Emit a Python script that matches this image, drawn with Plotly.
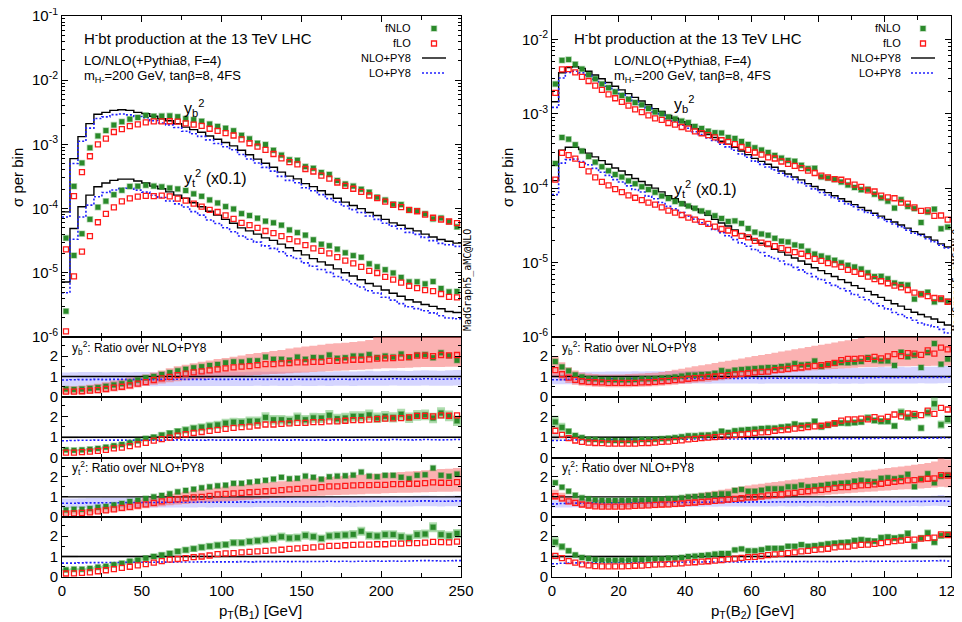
import numpy as np
import plotly.graph_objects as go

# ======================= DATA =======================
# Left column: pT(B1), 50 bins of 5 GeV ; right column: pT(B2), 60 bins of 2 GeV
BW_L, NB_L = 5.0, 50
BW_R, NB_R = 2.0, 60

# ---- NLO+PY8 sigma per bin (main panels; yt values as plotted, i.e. x0.1) ----
nlo_yb_L = [8.9e-5, 6.0e-4, 1.32e-3, 2.11e-3, 2.95e-3, 3.16e-3, 3.39e-3, 3.47e-3, 3.39e-3, 3.16e-3,
            3.02e-3, 2.75e-3, 2.51e-3, 2.34e-3, 2.11e-3, 1.86e-3, 1.70e-3, 1.55e-3, 1.35e-3, 1.20e-3,
            1.07e-3, 9.5e-4, 8.1e-4, 6.9e-4, 5.9e-4, 5.1e-4, 4.4e-4, 3.7e-4, 3.2e-4, 2.9e-4,
            2.45e-4, 2.2e-4, 1.9e-4, 1.66e-4, 1.45e-4, 1.26e-4, 1.12e-4, 1.0e-4, 8.7e-5, 7.8e-5,
            6.8e-5, 6.0e-5, 5.5e-5, 4.9e-5, 4.5e-5, 4.0e-5, 3.6e-5, 3.3e-5, 3.1e-5, 2.9e-5]
nlo_yt_L = [7.2e-6, 4.9e-5, 1.07e-4, 1.62e-4, 2.19e-4, 2.51e-4, 2.75e-4, 2.88e-4, 2.88e-4, 2.69e-4,
            2.51e-4, 2.24e-4, 2.04e-4, 1.82e-4, 1.62e-4, 1.45e-4, 1.23e-4, 1.07e-4, 9.1e-5, 7.9e-5,
            6.8e-5, 5.9e-5, 5.0e-5, 4.5e-5, 4.0e-5, 3.5e-5, 3.2e-5, 2.8e-5, 2.45e-5, 2.2e-5,
            1.9e-5, 1.66e-5, 1.48e-5, 1.32e-5, 1.15e-5, 1.0e-5, 8.9e-6, 7.8e-6, 6.8e-6, 6.2e-6,
            5.4e-6, 4.8e-6, 4.3e-6, 3.8e-6, 3.5e-6, 3.2e-6, 3.0e-6, 2.75e-6, 2.5e-6, 2.4e-6]
nlo_yb_R = [1.45e-3, 3.55e-3, 4.17e-3, 4.27e-3, 4.07e-3, 3.72e-3, 3.31e-3, 2.95e-3, 2.63e-3, 2.34e-3,
            2.09e-3, 1.86e-3, 1.66e-3, 1.48e-3, 1.32e-3, 1.17e-3, 1.07e-3, 9.5e-4, 8.7e-4, 7.8e-4,
            7.1e-4, 6.3e-4, 5.75e-4, 5.25e-4, 4.8e-4, 4.27e-4, 3.9e-4, 3.55e-4, 3.16e-4, 2.82e-4,
            2.51e-4, 2.29e-4, 2.09e-4, 1.91e-4, 1.70e-4, 1.55e-4, 1.41e-4, 1.29e-4, 1.15e-4, 1.05e-4,
            9.5e-5, 8.7e-5, 7.9e-5, 7.2e-5, 6.6e-5, 6.0e-5, 5.5e-5, 5.0e-5, 4.6e-5, 4.2e-5,
            3.8e-5, 3.5e-5, 3.2e-5, 2.9e-5, 2.6e-5, 2.4e-5, 2.2e-5, 2.0e-5, 1.78e-5, 1.62e-5]
nlo_yt_R = [1.26e-4, 3.24e-4, 3.55e-4, 3.55e-4, 3.31e-4, 2.95e-4, 2.63e-4, 2.34e-4, 2.09e-4, 1.86e-4,
            1.70e-4, 1.51e-4, 1.35e-4, 1.23e-4, 1.10e-4, 1.0e-4, 8.9e-5, 7.9e-5, 7.2e-5, 6.5e-5,
            5.75e-5, 5.25e-5, 4.7e-5, 4.3e-5, 3.8e-5, 3.4e-5, 3.1e-5, 2.75e-5, 2.45e-5, 2.24e-5,
            2.0e-5, 1.82e-5, 1.66e-5, 1.51e-5, 1.38e-5, 1.26e-5, 1.15e-5, 1.05e-5, 9.5e-6, 8.5e-6,
            7.8e-6, 7.1e-6, 6.5e-6, 5.9e-6, 5.4e-6, 4.9e-6, 4.5e-6, 4.1e-6, 3.7e-6, 3.4e-6,
            3.1e-6, 2.8e-6, 2.6e-6, 2.35e-6, 2.15e-6, 2.0e-6, 1.86e-6, 1.74e-6, 1.58e-6, 1.45e-6]

# ---- ratios over NLO+PY8 (ratio panels) ----
r_lo_yb_L = [0.83, 0.84, 0.85, 0.85, 0.86, 0.85, 0.86, 0.86, 0.85, 0.86, 0.86, 0.85, 0.86, 0.86, 0.87, 0.86, 0.86,
             0.86, 0.87, 0.86, 0.86, 0.87, 0.86, 0.86, 0.87, 0.86, 0.87, 0.86, 0.86, 0.87, 0.86, 0.86, 0.87, 0.86,
             0.87, 0.87, 0.86, 0.87, 0.88, 0.87, 0.87, 0.89, 0.88, 0.87, 0.88, 0.89, 0.88, 0.87, 0.88, 0.89]
r_fnlo_yb_L = [0.39, 0.37, 0.39, 0.42, 0.46, 0.52, 0.59, 0.65, 0.73, 0.83, 0.94, 1.0, 1.1, 1.19, 1.28, 1.35, 1.43,
               1.48, 1.54, 1.59, 1.67, 1.72, 1.71, 1.77, 1.77, 1.95, 1.84, 1.84, 1.8, 1.95, 1.84, 1.93, 1.92, 2.05,
               1.89, 1.92, 2.0, 2.0, 2.07, 1.93, 2.0, 1.95, 2.1, 1.93, 2.05, 2.07, 1.92, 2.16, 2.02, 1.79]
r_flo_yb_L = [0.26, 0.26, 0.28, 0.31, 0.34, 0.39, 0.46, 0.5, 0.57, 0.65, 0.73, 0.83, 0.91, 0.98, 1.07, 1.14, 1.2,
              1.25, 1.3, 1.35, 1.4, 1.45, 1.48, 1.51, 1.56, 1.61, 1.61, 1.64, 1.66, 1.69, 1.69, 1.72, 1.72, 1.76,
              1.76, 1.79, 1.82, 1.82, 1.84, 1.87, 1.89, 1.9, 1.92, 1.95, 2.02, 2.02, 2.0, 2.05, 2.03, 2.05]
r_lo_yt_L = [0.68, 0.68, 0.69, 0.7, 0.7, 0.71, 0.71, 0.71, 0.72, 0.72, 0.72, 0.72, 0.73, 0.72, 0.73, 0.73, 0.73,
             0.74, 0.73, 0.74, 0.74, 0.74, 0.75, 0.74, 0.75, 0.75, 0.75, 0.76, 0.75, 0.76, 0.75, 0.76, 0.76, 0.77,
             0.76, 0.77, 0.76, 0.77, 0.77, 0.78, 0.77, 0.78, 0.77, 0.78, 0.79, 0.8, 0.79, 0.78, 0.79, 0.8]
r_fnlo_yt_L = [0.35, 0.38, 0.38, 0.42, 0.48, 0.52, 0.6, 0.67, 0.77, 0.83, 0.92, 1.0, 1.07, 1.15, 1.25, 1.32, 1.38,
               1.45, 1.5, 1.55, 1.58, 1.67, 1.67, 1.73, 1.77, 1.82, 1.88, 1.97, 1.9, 1.92, 2.03, 1.97, 1.88, 2.0,
               2.03, 2.05, 2.08, 2.23, 2.03, 2.0, 2.07, 2.07, 1.97, 1.9, 2.07, 2.1, 2.43, 2.07, 2.02, 2.13]
r_flo_yt_L = [0.17, 0.18, 0.2, 0.23, 0.28, 0.33, 0.38, 0.45, 0.5, 0.57, 0.63, 0.7, 0.78, 0.85, 0.88, 0.92, 0.97,
              1.0, 1.05, 1.12, 1.15, 1.17, 1.2, 1.23, 1.25, 1.28, 1.3, 1.33, 1.37, 1.4, 1.42, 1.45, 1.48, 1.52,
              1.52, 1.55, 1.57, 1.58, 1.58, 1.6, 1.6, 1.63, 1.63, 1.65, 1.65, 1.68, 1.72, 1.7, 1.69, 1.73]

r_lo_yb_R = [0.84, 0.85, 0.86, 0.87, 0.87, 0.88, 0.88, 0.88, 0.89, 0.89, 0.89, 0.89, 0.9, 0.89, 0.9, 0.9, 0.9, 0.9,
             0.91, 0.9, 0.9, 0.91, 0.91, 0.9, 0.91, 0.91, 0.92, 0.91, 0.91, 0.92, 0.92, 0.91, 0.92, 0.92, 0.93,
             0.92, 0.93, 0.92, 0.93, 0.93, 0.92, 0.93, 0.94, 0.93, 0.93, 0.94, 0.93, 0.94, 0.94, 0.95, 0.94, 0.94,
             0.95, 0.94, 0.95, 0.96, 0.95, 0.95, 0.96, 0.97]
r_fnlo_yb_R = [1.73, 1.47, 1.28, 1.08, 0.98, 0.9, 0.89, 0.85, 0.85, 0.84, 0.84, 0.84, 0.85, 0.89, 0.89, 0.9, 0.93,
               0.95, 0.98, 1.02, 1.07, 1.07, 1.1, 1.11, 1.16, 1.29, 1.23, 1.31, 1.34, 1.37, 1.39, 1.42, 1.44, 1.44,
               1.49, 1.52, 1.63, 1.57, 1.59, 1.76, 1.49, 1.57, 1.65, 1.68, 1.67, 1.7, 1.73, 1.93, 1.8, 1.76, 1.76,
               1.54, 2.19, 1.96, 2.04, 1.44, 2.17, 2.61, 1.6, 1.85]
r_flo_yb_R = [1.31, 1.11, 0.95, 0.84, 0.77, 0.74, 0.72, 0.71, 0.69, 0.69, 0.69, 0.69, 0.69, 0.71, 0.72, 0.74, 0.77,
              0.79, 0.82, 0.85, 0.89, 0.92, 0.95, 0.98, 1.0, 1.03, 1.07, 1.1, 1.13, 1.16, 1.2, 1.23, 1.24, 1.31,
              1.34, 1.37, 1.41, 1.44, 1.49, 1.52, 1.55, 1.6, 1.67, 1.8, 1.86, 1.86, 1.89, 1.86, 1.96, 1.89, 1.98,
              2.09, 2.0, 2.14, 2.12, 2.06, 2.28, 2.12, 2.41, 2.33]
r_lo_yt_R = [0.65, 0.67, 0.68, 0.69, 0.69, 0.7, 0.7, 0.7, 0.71, 0.7, 0.71, 0.71, 0.71, 0.72, 0.71, 0.72, 0.72, 0.72,
             0.73, 0.72, 0.73, 0.73, 0.73, 0.74, 0.73, 0.74, 0.74, 0.74, 0.75, 0.74, 0.75, 0.75, 0.74, 0.75, 0.76,
             0.75, 0.75, 0.76, 0.75, 0.76, 0.76, 0.75, 0.76, 0.76, 0.77, 0.76, 0.76, 0.77, 0.76, 0.77, 0.77, 0.76,
             0.77, 0.77, 0.78, 0.77, 0.78, 0.79, 0.8, 0.78]
r_fnlo_yt_R = [1.7, 1.48, 1.28, 1.08, 0.95, 0.9, 0.85, 0.83, 0.82, 0.82, 0.83, 0.83, 0.85, 0.85, 0.87, 0.88, 0.88,
               0.92, 0.92, 0.95, 1.0, 1.02, 1.05, 1.08, 1.12, 1.15, 1.15, 1.32, 1.37, 1.28, 1.28, 1.33, 1.4, 1.4,
               1.4, 1.5, 1.5, 1.58, 1.5, 1.53, 1.57, 1.62, 1.65, 1.68, 1.7, 1.78, 1.82, 1.78, 1.75, 1.92, 1.95,
               1.9, 1.95, 2.12, 1.5, 1.9, 2.15, 1.7, 2.02, 2.08]
r_flo_yt_R = [1.03, 0.92, 0.78, 0.7, 0.62, 0.57, 0.53, 0.52, 0.52, 0.52, 0.52, 0.53, 0.55, 0.56, 0.58, 0.6, 0.62,
              0.63, 0.65, 0.67, 0.7, 0.72, 0.75, 0.77, 0.8, 0.83, 0.87, 0.9, 0.93, 0.97, 0.98, 1.02, 1.07, 1.1,
              1.13, 1.17, 1.2, 1.25, 1.28, 1.32, 1.35, 1.38, 1.45, 1.48, 1.48, 1.53, 1.57, 1.58, 1.62, 1.65, 1.7,
              1.75, 1.78, 1.82, 1.83, 1.87, 1.9, 1.92, 2.08, 2.05]

# ---- uncertainty bands in the ratio panels ----
# fLO scale band (red), absolute ratio values
red_lo_yb_L = [0.13, 0.13, 0.14, 0.16, 0.18, 0.22, 0.27, 0.32, 0.38, 0.46, 0.54, 0.6, 0.66, 0.72, 0.77, 0.82, 0.86,
               0.89, 0.92, 0.95, 0.98, 1.0, 1.03, 1.05, 1.08, 1.1, 1.12, 1.14, 1.16, 1.18, 1.2, 1.22, 1.24, 1.26,
               1.28, 1.3, 1.32, 1.33, 1.35, 1.38, 1.4, 1.41, 1.42, 1.43, 1.45, 1.46, 1.46, 1.47, 1.48, 1.48]
red_hi_yb_L = [0.52, 0.52, 0.55, 0.6, 0.65, 0.72, 0.8, 0.88, 0.95, 1.03, 1.1, 1.2, 1.3, 1.4, 1.5, 1.58, 1.65, 1.72,
               1.78, 1.85, 1.9, 1.97, 2.03, 2.1, 2.15, 2.2, 2.25, 2.3, 2.37, 2.42, 2.47, 2.5, 2.55, 2.6, 2.62, 2.65,
               2.68, 2.72, 2.78, 3.0, 3.0, 3.0, 3.0, 3.0, 3.0, 3.0, 3.0, 3.0, 3.0, 3.0]
red_lo_yt_L = [0.1, 0.11, 0.12, 0.14, 0.17, 0.2, 0.23, 0.27, 0.31, 0.37, 0.43, 0.48, 0.53, 0.58, 0.62, 0.65, 0.68,
               0.71, 0.73, 0.75, 0.77, 0.8, 0.83, 0.86, 0.89, 0.92, 0.94, 0.96, 0.98, 1.0, 1.02, 1.04, 1.06, 1.08,
               1.09, 1.1, 1.12, 1.13, 1.15, 1.16, 1.18, 1.19, 1.2, 1.21, 1.22, 1.23, 1.24, 1.25, 1.26, 1.27]
red_hi_yt_L = [0.35, 0.36, 0.38, 0.42, 0.47, 0.53, 0.6, 0.67, 0.74, 0.84, 0.93, 1.0, 1.07, 1.14, 1.2, 1.26, 1.32,
               1.37, 1.42, 1.47, 1.52, 1.56, 1.6, 1.64, 1.68, 1.71, 1.74, 1.77, 1.81, 1.85, 1.9, 1.93, 1.96, 1.99,
               2.02, 2.05, 2.08, 2.1, 2.13, 2.15, 2.18, 2.2, 2.23, 2.26, 2.29, 2.32, 2.35, 2.38, 2.4, 2.43]
red_lo_yb_R = [0.95, 0.8, 0.68, 0.6, 0.55, 0.52, 0.5, 0.49, 0.48, 0.48, 0.48, 0.48, 0.49, 0.5, 0.51, 0.53, 0.55,
               0.57, 0.6, 0.63, 0.66, 0.69, 0.72, 0.75, 0.78, 0.82, 0.86, 0.9, 0.95, 1.0, 1.04, 1.08, 1.1, 1.13,
               1.16, 1.19, 1.22, 1.25, 1.28, 1.31, 1.33, 1.35, 1.37, 1.39, 1.41, 1.43, 1.45, 1.46, 1.47, 1.48,
               1.49, 1.5, 1.5, 1.5, 1.51, 1.51, 1.51, 1.52, 1.52, 1.52]
red_hi_yb_R = [2.0, 1.7, 1.45, 1.3, 1.2, 1.15, 1.12, 1.1, 1.1, 1.1, 1.1, 1.12, 1.13, 1.15, 1.17, 1.19, 1.22, 1.27,
               1.33, 1.38, 1.44, 1.5, 1.55, 1.6, 1.66, 1.72, 1.77, 1.82, 1.88, 1.94, 2.0, 2.05, 2.1, 2.16, 2.22,
               2.27, 2.33, 2.38, 2.44, 2.5, 2.55, 2.6, 2.66, 2.72, 2.77, 2.83, 2.88, 3.0, 3.0, 3.0, 3.0, 3.0, 3.0,
               3.0, 3.0, 3.0, 3.0, 3.0, 3.0, 3.0]
red_lo_yt_R = [0.85, 0.74, 0.62, 0.54, 0.48, 0.44, 0.41, 0.4, 0.4, 0.4, 0.4, 0.4, 0.41, 0.42, 0.43, 0.44, 0.45,
               0.46, 0.48, 0.5, 0.52, 0.55, 0.58, 0.61, 0.64, 0.67, 0.7, 0.73, 0.76, 0.79, 0.81, 0.84, 0.87, 0.9,
               0.92, 0.95, 0.98, 1.0, 1.02, 1.05, 1.07, 1.1, 1.13, 1.15, 1.18, 1.2, 1.23, 1.25, 1.27, 1.3, 1.32,
               1.34, 1.36, 1.38, 1.4, 1.42, 1.44, 1.46, 1.5, 1.48]
red_hi_yt_R = [1.35, 1.2, 1.05, 0.95, 0.88, 0.85, 0.84, 0.84, 0.85, 0.86, 0.87, 0.88, 0.9, 0.91, 0.93, 0.95, 0.97,
               0.99, 1.01, 1.05, 1.1, 1.15, 1.2, 1.25, 1.3, 1.35, 1.4, 1.46, 1.52, 1.57, 1.61, 1.65, 1.7, 1.74,
               1.78, 1.82, 1.86, 1.9, 1.95, 1.99, 2.03, 2.07, 2.11, 2.15, 2.19, 2.23, 2.27, 2.31, 2.35, 2.39,
               2.43, 2.47, 2.51, 2.55, 2.59, 2.63, 2.68, 2.75, 2.9, 2.85]
# LO scale band (blue): lower / upper edge as fractions of the LO ratio
blue_lo_yb_L = [0.6, 0.6, 0.61, 0.61, 0.62, 0.62, 0.62, 0.62, 0.62, 0.62, 0.62, 0.62, 0.62, 0.62, 0.62, 0.62, 0.62,
                0.62, 0.62, 0.62, 0.62, 0.62, 0.62, 0.63, 0.63, 0.63, 0.63, 0.63, 0.63, 0.63, 0.63, 0.63, 0.63,
                0.63, 0.63, 0.63, 0.63, 0.63, 0.63, 0.63, 0.63, 0.63, 0.63, 0.63, 0.63, 0.63, 0.63, 0.63, 0.63, 0.63]
blue_hi_yb_L = [1.44, 1.44, 1.43, 1.43, 1.42, 1.42, 1.42, 1.42, 1.42, 1.42, 1.42, 1.42, 1.42, 1.42, 1.42, 1.42, 1.42,
                1.42, 1.42, 1.42, 1.42, 1.42, 1.42, 1.43, 1.43, 1.43, 1.43, 1.43, 1.43, 1.43, 1.44, 1.44, 1.44,
                1.44, 1.44, 1.45, 1.45, 1.45, 1.45, 1.45, 1.46, 1.46, 1.46, 1.46, 1.47, 1.47, 1.47, 1.47, 1.48, 1.48]
blue_lo_yt_L = [0.64, 0.64, 0.65, 0.65, 0.65, 0.65, 0.65, 0.65, 0.65, 0.65, 0.65, 0.65, 0.65, 0.65, 0.65, 0.65, 0.65,
                0.65, 0.65, 0.65, 0.65, 0.65, 0.65, 0.66, 0.66, 0.66, 0.66, 0.66, 0.66, 0.66, 0.66, 0.66, 0.66,
                0.66, 0.66, 0.66, 0.66, 0.66, 0.66, 0.66, 0.67, 0.67, 0.67, 0.67, 0.67, 0.67, 0.67, 0.67, 0.67, 0.67]
blue_hi_yt_L = [1.36, 1.36, 1.35, 1.35, 1.35, 1.35, 1.35, 1.35, 1.35, 1.35, 1.35, 1.35, 1.35, 1.35, 1.35, 1.35, 1.35,
                1.35, 1.35, 1.35, 1.35, 1.35, 1.35, 1.34, 1.34, 1.34, 1.34, 1.34, 1.34, 1.34, 1.34, 1.34, 1.34,
                1.34, 1.34, 1.34, 1.34, 1.34, 1.34, 1.34, 1.33, 1.33, 1.33, 1.33, 1.33, 1.33, 1.33, 1.33, 1.33, 1.33]
blue_lo_yb_R = [0.74, 0.73, 0.72, 0.72, 0.72, 0.72, 0.72, 0.72, 0.72, 0.72, 0.72, 0.72, 0.72, 0.72, 0.72, 0.72, 0.72,
                0.72, 0.72, 0.72, 0.72, 0.72, 0.72, 0.72, 0.72, 0.72, 0.72, 0.72, 0.72, 0.72, 0.71, 0.71, 0.71,
                0.71, 0.71, 0.71, 0.71, 0.71, 0.71, 0.71, 0.7, 0.7, 0.7, 0.7, 0.7, 0.7, 0.7, 0.7, 0.7, 0.7, 0.7,
                0.7, 0.7, 0.7, 0.7, 0.7, 0.7, 0.7, 0.7, 0.7]
blue_hi_yb_R = [1.36, 1.37, 1.38, 1.39, 1.4, 1.4, 1.4, 1.4, 1.4, 1.4, 1.4, 1.4, 1.4, 1.4, 1.4, 1.4, 1.4, 1.4, 1.4,
                1.4, 1.4, 1.41, 1.41, 1.41, 1.42, 1.42, 1.42, 1.43, 1.43, 1.44, 1.44, 1.45, 1.45, 1.46, 1.46, 1.47,
                1.47, 1.48, 1.48, 1.49, 1.49, 1.5, 1.5, 1.51, 1.51, 1.52, 1.52, 1.53, 1.53, 1.54, 1.54, 1.55, 1.55,
                1.55, 1.55, 1.55, 1.56, 1.56, 1.56, 1.56]
blue_lo_yt_R = [0.72, 0.71, 0.7, 0.7, 0.7, 0.7, 0.7, 0.7, 0.7, 0.7, 0.7, 0.7, 0.7, 0.7, 0.7, 0.7, 0.7, 0.7, 0.7, 0.7,
                0.7, 0.7, 0.7, 0.7, 0.7, 0.7, 0.7, 0.7, 0.7, 0.7, 0.7, 0.7, 0.7, 0.7, 0.7, 0.7, 0.7, 0.7, 0.7, 0.7,
                0.7, 0.7, 0.7, 0.7, 0.7, 0.7, 0.7, 0.7, 0.7, 0.7, 0.7, 0.7, 0.7, 0.7, 0.7, 0.7, 0.7, 0.7, 0.68,
                0.68]
blue_hi_yt_R = [1.28, 1.28, 1.28, 1.28, 1.28, 1.28, 1.28, 1.28, 1.28, 1.28, 1.28, 1.28, 1.28, 1.28, 1.28, 1.28, 1.28,
                1.28, 1.28, 1.28, 1.28, 1.28, 1.28, 1.28, 1.28, 1.28, 1.28, 1.28, 1.28, 1.28, 1.28, 1.28, 1.28,
                1.28, 1.28, 1.28, 1.28, 1.28, 1.28, 1.28, 1.28, 1.28, 1.28, 1.28, 1.28, 1.28, 1.28, 1.28, 1.28,
                1.28, 1.28, 1.28, 1.28, 1.28, 1.28, 1.3, 1.3, 1.33, 1.36, 1.33]
# fNLO band (green) and NLO band (grey): absolute half widths in ratio units
green_hw_yb_L = [0.05, 0.05, 0.05, 0.06, 0.06, 0.07, 0.08, 0.09, 0.1, 0.11, 0.12, 0.13, 0.14, 0.15, 0.16, 0.17, 0.18,
                 0.19, 0.2, 0.2, 0.21, 0.21, 0.21, 0.22, 0.22, 0.25, 0.23, 0.23, 0.23, 0.24, 0.23, 0.24, 0.24, 0.26,
                 0.24, 0.25, 0.25, 0.25, 0.26, 0.25, 0.26, 0.25, 0.27, 0.25, 0.26, 0.26, 0.25, 0.28, 0.26, 0.25]
green_hw_yt_L = [0.05, 0.05, 0.05, 0.06, 0.06, 0.07, 0.08, 0.09, 0.1, 0.11, 0.12, 0.13, 0.14, 0.15, 0.15, 0.16, 0.16,
                 0.17, 0.17, 0.18, 0.18, 0.18, 0.18, 0.19, 0.19, 0.19, 0.2, 0.2, 0.2, 0.2, 0.21, 0.2, 0.2, 0.21,
                 0.21, 0.21, 0.21, 0.22, 0.21, 0.21, 0.21, 0.21, 0.21, 0.21, 0.22, 0.22, 0.24, 0.22, 0.22, 0.22]
green_hw_yb_R = [0.3, 0.22, 0.14, 0.08, 0.06, 0.05, 0.05, 0.05, 0.05, 0.05, 0.05, 0.05, 0.05, 0.05, 0.05, 0.05, 0.05,
                 0.05, 0.06, 0.06, 0.06, 0.06, 0.07, 0.07, 0.07, 0.09, 0.08, 0.09, 0.09, 0.09, 0.1, 0.1, 0.1, 0.1,
                 0.11, 0.11, 0.13, 0.12, 0.12, 0.14, 0.12, 0.13, 0.14, 0.14, 0.14, 0.15, 0.15, 0.17, 0.16, 0.16,
                 0.16, 0.15, 0.2, 0.18, 0.19, 0.16, 0.21, 0.3, 0.2, 0.22]
green_hw_yt_R = [0.25, 0.18, 0.12, 0.07, 0.06, 0.05, 0.05, 0.05, 0.05, 0.05, 0.05, 0.05, 0.05, 0.05, 0.05, 0.05, 0.05,
                 0.05, 0.06, 0.06, 0.06, 0.06, 0.07, 0.07, 0.07, 0.08, 0.08, 0.1, 0.1, 0.09, 0.09, 0.1, 0.1, 0.1,
                 0.1, 0.11, 0.11, 0.12, 0.11, 0.12, 0.12, 0.12, 0.13, 0.13, 0.13, 0.14, 0.14, 0.14, 0.14, 0.15,
                 0.15, 0.15, 0.15, 0.17, 0.14, 0.15, 0.17, 0.15, 0.17, 0.17]
grey_hw_L = [0.06, 0.06, 0.05, 0.05, 0.05, 0.05, 0.05, 0.05, 0.05, 0.05, 0.05, 0.05, 0.05, 0.05, 0.05, 0.05, 0.05,
             0.05, 0.05, 0.05, 0.05, 0.05, 0.05, 0.05, 0.05, 0.05, 0.05, 0.05, 0.05, 0.05, 0.05, 0.05, 0.05, 0.05,
             0.05, 0.05, 0.05, 0.05, 0.05, 0.05, 0.05, 0.05, 0.05, 0.05, 0.05, 0.05, 0.05, 0.05, 0.05, 0.05]
grey_hw_R = [0.15, 0.08, 0.06, 0.05, 0.05, 0.05, 0.05, 0.05, 0.05, 0.05, 0.05, 0.05, 0.05, 0.05, 0.05, 0.05, 0.05,
             0.05, 0.05, 0.05, 0.05, 0.05, 0.05, 0.05, 0.05, 0.05, 0.05, 0.05, 0.05, 0.05, 0.05, 0.05, 0.05, 0.05,
             0.05, 0.05, 0.05, 0.05, 0.05, 0.05, 0.05, 0.05, 0.05, 0.05, 0.05, 0.05, 0.05, 0.05, 0.05, 0.05,
             0.05, 0.05, 0.05, 0.05, 0.05, 0.05, 0.05, 0.05, 0.06, 0.06]

# tick labels
main_exp_L = [-6, -5, -4, -3, -2, -1]
main_exp_R = [-6, -5, -4, -3, -2]
ratio_ticks = [0, 1, 2]
x_ticks_L = [0, 50, 100, 150, 200, 250]
x_ticks_R = [0, 20, 40, 60, 80, 100, 120]

# ======================= STYLE / GEOMETRY =======================
# The page body adds an 8 px margin, so the figure is 8 px smaller and every
# page coordinate below is converted with that offset.
OFF = 8
W, H = 962 - OFF, 622 - OFF
ML, MR, MT, MB = 62 - OFF, 11, 16 - OFF, 45
PW, PH = W - ML - MR, H - MT - MB
FONT = "Liberation Sans, Arial, Helvetica, sans-serif"
BLACK = "#000000"
BLUE = "#2020ff"
GREEN = "#2a8a2a"
RED = "#ff1a1a"
RED_BAND = "rgba(248,100,100,0.50)"
BLUE_BAND = "rgba(125,125,255,0.32)"
GREEN_BAND = "rgba(80,180,80,0.45)"
GREY_BAND = "rgba(150,150,150,0.40)"


def px(x):  # page x (reference pixels) -> paper fraction
    return (x - OFF - ML) / PW


def py(y):  # page y -> paper fraction
    return (H - MB - (y - OFF)) / PH


ROW_EDGES = [16, 337, 397, 458, 517, 577]
COL_X = [(62, 461), (552, 951)]

fig = go.Figure()


def idx(c, r):
    return c * 5 + r + 1


def aname(prefix, i):
    return prefix if i == 1 else f"{prefix}{i}"


def step_y(vals):
    v = list(vals)
    return v + [v[-1]]


def add_step(i, edges, vals, color, width, dash="solid"):
    fig.add_trace(go.Scatter(x=edges, y=step_y(vals), mode="lines", line_shape="hv",
                             line=dict(color=color, width=width, dash=dash),
                             xaxis=aname("x", i), yaxis=aname("y", i), hoverinfo="skip", showlegend=False))


def add_band(i, edges, lo, hi, color):
    fig.add_trace(go.Scatter(x=edges, y=step_y(lo), mode="lines", line_shape="hv", line=dict(width=0),
                             xaxis=aname("x", i), yaxis=aname("y", i), hoverinfo="skip", showlegend=False))
    fig.add_trace(go.Scatter(x=edges, y=step_y(hi), mode="lines", line_shape="hv", line=dict(width=0),
                             fill="tonexty", fillcolor=color,
                             xaxis=aname("x", i), yaxis=aname("y", i), hoverinfo="skip", showlegend=False))


def add_pts(i, x, y, kind):
    if kind == "fnlo":
        m = dict(symbol="square", size=5, color=GREEN, line=dict(color="rgba(42,138,42,0.35)", width=1.5))
    else:
        m = dict(symbol="square-open", size=5, color=RED, line=dict(color=RED, width=1.3))
    fig.add_trace(go.Scatter(x=x, y=y, mode="markers", marker=m, cliponaxis=True,
                             xaxis=aname("x", i), yaxis=aname("y", i), hoverinfo="skip", showlegend=False))


columns = [
    dict(bw=BW_L, nb=NB_L, nlo_yb=nlo_yb_L, nlo_yt=nlo_yt_L,
         r_lo_yb=r_lo_yb_L, r_fnlo_yb=r_fnlo_yb_L, r_flo_yb=r_flo_yb_L,
         r_lo_yt=r_lo_yt_L, r_fnlo_yt=r_fnlo_yt_L, r_flo_yt=r_flo_yt_L,
         red_yb=(red_lo_yb_L, red_hi_yb_L), red_yt=(red_lo_yt_L, red_hi_yt_L),
         blue_yb=(blue_lo_yb_L, blue_hi_yb_L), blue_yt=(blue_lo_yt_L, blue_hi_yt_L),
         green_yb=green_hw_yb_L, green_yt=green_hw_yt_L, grey=grey_hw_L,
         xrange=[0, 250], xticks=x_ticks_L, xminor=25, yexp=main_exp_L, yrange=[-6.0005, -0.9995]),
    dict(bw=BW_R, nb=NB_R, nlo_yb=nlo_yb_R, nlo_yt=nlo_yt_R,
         r_lo_yb=r_lo_yb_R, r_fnlo_yb=r_fnlo_yb_R, r_flo_yb=r_flo_yb_R,
         r_lo_yt=r_lo_yt_R, r_fnlo_yt=r_fnlo_yt_R, r_flo_yt=r_flo_yt_R,
         red_yb=(red_lo_yb_R, red_hi_yb_R), red_yt=(red_lo_yt_R, red_hi_yt_R),
         blue_yb=(blue_lo_yb_R, blue_hi_yb_R), blue_yt=(blue_lo_yt_R, blue_hi_yt_R),
         green_yb=green_hw_yb_R, green_yt=green_hw_yt_R, grey=grey_hw_R,
         xrange=[0, 120], xticks=x_ticks_R, xminor=10, yexp=main_exp_R, yrange=[-6.0005, -1.687]),
]

layout_axes = {}
tickfont = dict(family=FONT, size=15, color="black")

for c, col in enumerate(columns):
    nb, bw = col["nb"], col["bw"]
    edges = np.arange(nb + 1) * bw
    centers = (np.arange(nb) + 0.5) * bw
    # ---------------- main panel ----------------
    i0 = idx(c, 0)
    for cp in ("yb", "yt"):
        nlo = np.array(col["nlo_" + cp])
        lo = nlo * np.array(col["r_lo_" + cp])
        fnlo = nlo * np.array(col["r_fnlo_" + cp])
        flo = nlo * np.array(col["r_flo_" + cp])
        add_step(i0, edges, nlo, BLACK, 1.4)
        add_step(i0, edges, lo, BLUE, 1.6, "2px,2px")
        add_pts(i0, centers, fnlo, "fnlo")
        add_pts(i0, centers, flo, "flo")
    # ---------------- ratio panels ----------------
    for r, (cp, kind) in enumerate([("yb", "scale"), ("yb", "stat"), ("yt", "scale"), ("yt", "stat")], start=1):
        i = idx(c, r)
        r_lo = np.array(col["r_lo_" + cp])
        r_fnlo = np.array(col["r_fnlo_" + cp])
        r_flo = np.array(col["r_flo_" + cp])
        nlo = np.array(col["nlo_" + cp])
        one = nlo / nlo
        if kind == "scale":
            bl, bh = col["blue_" + cp]
            add_band(i, edges, r_lo * np.array(bl), r_lo * np.array(bh), BLUE_BAND)
            rl, rh = col["red_" + cp]
            add_band(i, edges, rl, rh, RED_BAND)
        else:
            g = np.array(col["grey"])
            add_band(i, edges, one - g, one + g, GREY_BAND)
            gw = np.array(col["green_" + cp])
            add_band(i, edges, r_fnlo - gw, r_fnlo + gw, GREEN_BAND)
        add_step(i, edges, one, BLACK, 1.4)
        add_step(i, edges, r_lo, BLUE, 1.6, "2px,2px")
        add_pts(i, centers, r_fnlo, "fnlo")
        add_pts(i, centers, r_flo, "flo")

    # ---------------- axes ----------------
    x0, x1 = COL_X[c]
    first = idx(c, 0)
    for r in range(5):
        i = idx(c, r)
        ytop, ybot = ROW_EDGES[r], ROW_EDGES[r + 1]
        xa = dict(domain=[px(x0), px(x1)], range=col["xrange"], anchor=aname("y", i),
                  showline=True, linecolor="black", linewidth=1, mirror="ticks",
                  ticks="inside", ticklen=6, tickcolor="black", tickmode="array", tickvals=col["xticks"],
                  showticklabels=(r == 4), tickfont=tickfont, showgrid=False, zeroline=False,
                  ticklabeloverflow="allow",
                  minor=dict(ticks="inside", ticklen=4, dtick=col["xminor"], tick0=0, tickcolor="black",
                             showgrid=False),
                  automargin=False)
        if i != first:
            xa["matches"] = aname("x", first)
        ya = dict(domain=[py(ybot), py(ytop)], anchor=aname("x", i),
                  showline=True, linecolor="black", linewidth=1, mirror="ticks",
                  ticks="inside", ticklen=6, tickcolor="black", showgrid=False, zeroline=False,
                  tickfont=tickfont, automargin=False, ticklabeloverflow="allow")
        if r == 0:
            ya.update(type="log", range=col["yrange"], tickmode="array",
                      tickvals=[10.0 ** e for e in col["yexp"]],
                      ticktext=[f"10<sup>{e}</sup>" for e in col["yexp"]],
                      minor=dict(ticks="inside", ticklen=3, tickcolor="black", showgrid=False,
                                 tickmode="array",
                                 tickvals=[m * 10.0 ** e for e in range(-6, -1) for m in range(2, 10)]))
        else:
            ya.update(range=[0, 2.93], tickmode="array", tickvals=ratio_ticks,
                      minor=dict(ticks="inside", ticklen=3, dtick=0.5, tick0=0, tickcolor="black",
                                 showgrid=False))
        layout_axes[("xaxis" if i == 1 else f"xaxis{i}")] = xa
        layout_axes[("yaxis" if i == 1 else f"yaxis{i}")] = ya

# ======================= ANNOTATIONS =======================
ann = []


def txt(x, y, s, size, xanchor="left", angle=0, family=FONT, yanchor="middle"):
    ann.append(dict(x=px(x), y=py(y), xref="paper", yref="paper", text=s, showarrow=False,
                    xanchor=xanchor, yanchor=yanchor, textangle=angle,
                    font=dict(family=family, size=size, color="black")))


for (tx, sx) in [(82, 82), (572, 612)]:
    txt(tx, 37, "H<sup>-</sup>bt production at the 13 TeV LHC", 15)
    txt(sx, 60, "LO/NLO(+Pythia8, F=4)", 13)
    txt(sx, 76, "m<sub>H-</sub>=200 GeV, tanβ=8, 4FS", 13)

# legends (text right aligned, symbol to the right)
for (tr, sx) in [(413, 434), (903, 923)]:
    txt(tr, 28, "fNLO", 11, xanchor="right")
    txt(tr, 43, "fLO", 11, xanchor="right")
    txt(tr, 58, "NLO+PY8", 11, xanchor="right")
    txt(tr, 73, "LO+PY8", 11, xanchor="right")

# curve labels
txt(182, 108, "y<sub>b</sub><sup>2</sup>", 16)
txt(182, 178, "y<sub>t</sub><sup>2</sup> (x0.1)", 16)
txt(672, 104, "y<sub>b</sub><sup>2</sup>", 16)
txt(672, 189, "y<sub>t</sub><sup>2</sup> (x0.1)", 16)

# ratio-panel labels
for lx in (70, 560):
    txt(lx, 348, "y<sub>b</sub><sup>2</sup>: Ratio over NLO+PY8", 12)
    txt(lx, 468, "y<sub>t</sub><sup>2</sup>: Ratio over NLO+PY8", 12)

# axis titles
txt(260, 611, "p<sub>T</sub>(B<sub>1</sub>) [GeV]", 15, xanchor="center")
txt(752, 611, "p<sub>T</sub>(B<sub>2</sub>) [GeV]", 15, xanchor="center")
txt(17, 178, "σ per bin", 15, xanchor="center", angle=-90)
txt(507, 178, "σ per bin", 15, xanchor="center", angle=-90)

# generator stamp
txt(468, 280, "MadGraph5_aMC@NLO", 10, xanchor="center", angle=-90, family="DejaVu Sans Mono, monospace")
txt(957, 280, "MadGraph5_aMC@NLO", 10, xanchor="center", angle=-90, family="DejaVu Sans Mono, monospace")

# legend symbols (paper shapes)
shapes = []
for sx in (434, 923):
    shapes.append(dict(type="rect", xref="paper", yref="paper", x0=px(sx - 2.5), x1=px(sx + 2.5),
                       y0=py(31), y1=py(26), fillcolor=GREEN, line=dict(color="rgba(42,138,42,0.35)", width=1.5)))
    shapes.append(dict(type="rect", xref="paper", yref="paper", x0=px(sx - 2.5), x1=px(sx + 2.5),
                       y0=py(46), y1=py(41), fillcolor="white", line=dict(color=RED, width=1.3)))
    shapes.append(dict(type="line", xref="paper", yref="paper", x0=px(sx - 12), x1=px(sx + 12),
                       y0=py(58), y1=py(58), line=dict(color=BLACK, width=1.4)))
    shapes.append(dict(type="line", xref="paper", yref="paper", x0=px(sx - 12), x1=px(sx + 12),
                       y0=py(73), y1=py(73), line=dict(color=BLUE, width=1.6, dash="2px,2px")))

fig.update_layout(
    width=W, height=H, margin=dict(l=ML, r=MR, t=MT, b=MB),
    paper_bgcolor="white", plot_bgcolor="white", showlegend=False,
    font=dict(family=FONT, size=13, color="black"),
    annotations=ann, shapes=shapes, **layout_axes)

fig.write_html("out.html")
